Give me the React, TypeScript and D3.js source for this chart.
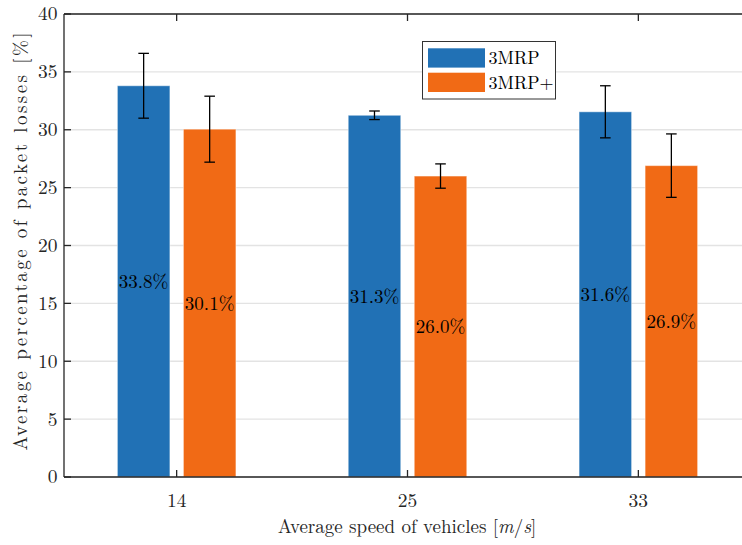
import React from "react";
import * as d3 from "d3";

const categories = ["14", "25", "33"];
const seriesNames = ["3MRP", "3MRP+"];
const meanValues = [
  [33.8, 31.25, 31.55],
  [30.05, 26.0, 26.9],
];
const errValues = [
  [2.8, 0.37, 2.25],
  [2.85, 1.05, 2.74],
];
const barLabels = [
  ["33.8%", "31.3%", "31.6%"],
  ["30.1%", "26.0%", "26.9%"],
];
const yTicks = [0, 5, 10, 15, 20, 25, 30, 35, 40];
const colors = ["#2171B5", "#F16A15"];

const W = 742;
const H = 545;
const FONT = `"Latin Modern Roman", "Liberation Serif", serif`;

export default function App() {
  const left = 64;
  const top = 14;
  const bottom = 477;
  const right = 742;
  const x = d3.scaleLinear().domain([0.512, 3.449]).range([left, right]);
  const y = d3.scaleLinear().domain([0, 40]).range([bottom, top]);
  const barW = 0.2275;
  const off = 0.143;
  const axisColor = "#262626";
  const ts = { fontFamily: FONT };

  return (
    <svg width={W} height={H} style={{ position: "absolute", left: 0, top: 0, background: "#fff", fontFamily: FONT }}>
      <rect x={0} y={0} width={W} height={H} fill="#fff" />
      {yTicks.map((t) => (
        <line key={"g" + t} x1={left} x2={right} y1={y(t)} y2={y(t)} stroke="#e3e3e3" strokeWidth={1.3} />
      ))}
      {seriesNames.map((s, si) =>
        categories.map((c, ci) => {
          const cx = x(ci + 1) + (si === 0 ? -off : off) * (x(2) - x(1));
          const w = barW * (x(2) - x(1));
          const v = meanValues[si][ci];
          return (
            <rect key={s + c} x={cx - w / 2} y={y(v)} width={w} height={y(0) - y(v)} fill={colors[si]} stroke="#ffffff" strokeOpacity={0.45} strokeWidth={1} />
          );
        })
      )}
      <line x1={left} x2={right} y1={bottom} y2={bottom} stroke={axisColor} strokeWidth={1.3} />
      <line x1={left} x2={right} y1={top} y2={top} stroke={axisColor} strokeWidth={1.3} />
      <line x1={left} x2={left} y1={top} y2={bottom} stroke={axisColor} strokeWidth={1.3} />
      {yTicks.map((t) => (
        <g key={"yt" + t}>
          <line x1={left} x2={left + 7} y1={y(t)} y2={y(t)} stroke={axisColor} strokeWidth={1.3} />
          <text x={left - 6.5} y={y(t)} dy="0.33em" textAnchor="end" fontSize={19.5} fill="#262626" style={ts}>
            {t}
          </text>
        </g>
      ))}
      {categories.map((c, ci) => (
        <g key={"xt" + c}>
          <line x1={x(ci + 1)} x2={x(ci + 1)} y1={bottom} y2={bottom - 7} stroke={axisColor} strokeWidth={1.3} />
          <line x1={x(ci + 1)} x2={x(ci + 1)} y1={top} y2={top + 7} stroke={axisColor} strokeWidth={1.3} />
          <text x={x(ci + 1)} y={500} dy="0.35em" textAnchor="middle" fontSize={19.5} fill="#262626" style={ts}>
            {c}
          </text>
        </g>
      ))}
      {seriesNames.map((s, si) =>
        categories.map((c, ci) => {
          const cx = x(ci + 1) + (si === 0 ? -off : off) * (x(2) - x(1));
          const v = meanValues[si][ci];
          const e = errValues[si][ci];
          const cap = 5.3;
          return (
            <g key={"e" + s + c} stroke="#000" strokeWidth={1.3}>
              <line x1={cx} x2={cx} y1={y(v + e)} y2={y(v - e)} />
              <line x1={cx - cap} x2={cx + cap} y1={y(v + e)} y2={y(v + e)} />
              <line x1={cx - cap} x2={cx + cap} y1={y(v - e)} y2={y(v - e)} />
            </g>
          );
        })
      )}
      {seriesNames.map((s, si) =>
        categories.map((c, ci) => {
          const cx = x(ci + 1) + (si === 0 ? -off : off) * (x(2) - x(1));
          const v = meanValues[si][ci];
          return (
            <text key={"l" + s + c} x={cx} y={y(v / 2)} dy="0.35em" textAnchor="middle" fontSize={19} fill="#000" style={ts}>
              {barLabels[si][ci]}
            </text>
          );
        })
      )}
      <g>
        <rect x={422.5} y={41.5} width={133} height={57.5} fill="#fff" stroke="#333" strokeWidth={1} />
        {seriesNames.map((s, si) => (
          <g key={"lg" + s}>
            <rect x={428} y={48.3 + si * 24.4} width={57} height={19.3} fill={colors[si]} />
            <text x={488.5} y={58 + si * 24.4} dy="0.35em" fontSize={18} fill="#000" style={ts}>
              {s}
            </text>
          </g>
        ))}
      </g>
      <text x={407} y={526} dy="0.35em" textAnchor="middle" fontSize={19} fill="#262626" style={ts}>
        Average speed of vehicles [<tspan fontStyle="italic">m</tspan>/<tspan fontStyle="italic">s</tspan>]
      </text>
      <text
        transform={`translate(20, ${(top + bottom) / 2 - 4}) rotate(-90)`}
        dy="0.35em"
        textAnchor="middle"
        fontSize={19}
        fill="#262626"
        textLength={418}
        lengthAdjust="spacing"
        style={ts}
      >
        Average percentage of packet losses [%]
      </text>
    </svg>
  );
}
